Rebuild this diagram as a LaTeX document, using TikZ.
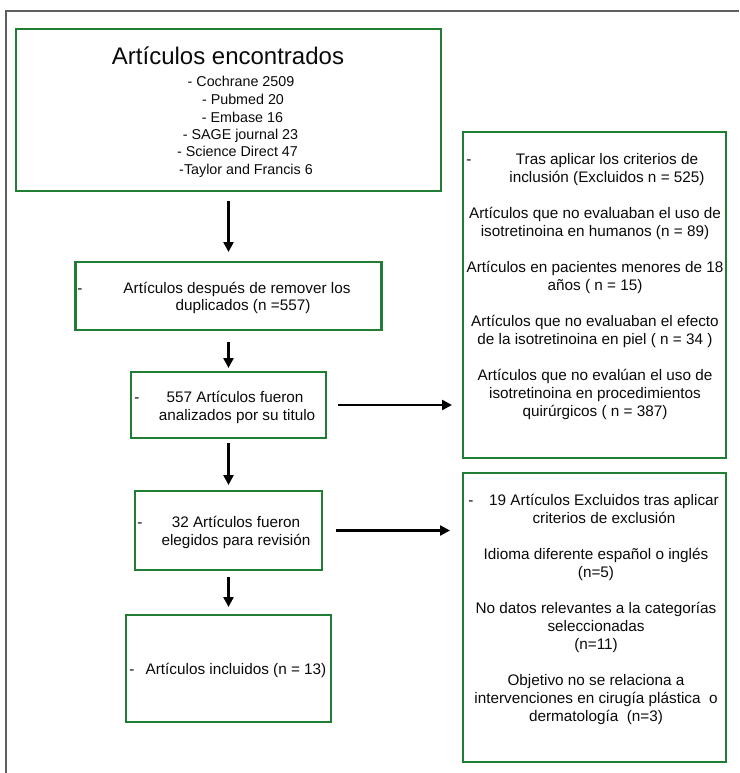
\documentclass[tikz,border=0pt]{standalone}
\usepackage{fontspec}
\setmainfont{Liberation Sans}
\usetikzlibrary{arrows.meta}
\definecolor{boxgreen}{RGB}{34,125,52}
\definecolor{framegray}{RGB}{95,95,95}
\definecolor{txtc}{RGB}{10,10,10}
\begin{document}
\begin{tikzpicture}[x=1pt,y=-1pt,
  box/.style={draw=boxgreen,line width=2.1pt,inner sep=0pt,outer sep=0pt},
  txt/.style={text=txtc,inner sep=0pt,anchor=base,font=\fontsize{15.3}{18}\selectfont},
  src/.style={txt,font=\fontsize{14.3}{17}\selectfont},
  ttl/.style={txt,font=\fontsize{24}{28}\selectfont},
  arr/.style={line width=2.4pt,draw=black,-{Triangle[length=10pt,width=10pt]}}]
\useasboundingbox (0,0) rectangle (739,773);
\draw[framegray,line width=1.8pt] (739,11) -- (6,11) -- (6,773);

% boxes
\node[box,minimum width=425pt,minimum height=162pt] (b1) at (228.5,110) {};
\node[box,minimum width=306pt,minimum height=68pt] (b2) at (228.5,296) {};
\node[box,minimum width=195pt,minimum height=66pt] (b3) at (228.5,405) {};
\node[box,minimum width=187pt,minimum height=79pt] (b4) at (228.5,530.5) {};
\node[box,minimum width=205pt,minimum height=107pt] (b5) at (228.5,668.5) {};
\node[box,minimum width=263pt,minimum height=326pt] (bA) at (594.5,295) {};
\node[box,minimum width=263pt,minimum height=289pt] (bB) at (594.5,617.5) {};

% arrows
\draw[arr,shorten <=10pt,shorten >=10pt] (b1.south) -- (b2.north);
\draw[arr,shorten <=12pt,shorten >=4pt] (b2.south) -- (b3.north);
\draw[arr,shorten <=5pt,shorten >=6pt] (b3.south) -- (b4.north);
\draw[arr,shorten <=7pt,shorten >=8pt] (b4.south) -- (b5.north);
\draw[arr,shorten <=12pt,shorten >=11pt] (b3.east) -- (b3.east -| bA.west);
\draw[arr,shorten <=14pt,shorten >=13pt] (b4.east) -- (b4.east -| bB.west);

% box 1
\node[ttl] (t1) at (228,65) {Artículos encontrados};
\node[src] (s1) at (241,87) {- Cochrane 2509};
\node[src] (s2) at (243,104.5) {- Pubmed 20};
\node[src] (s3) at (242.5,122) {- Embase 16};
\node[src] (s4) at (240.5,139.5) {- SAGE journal 23};
\node[src] (s5) at (237.5,157) {- Science Direct 47};
\node[src] (s6) at (246,174.5) {-Taylor and Francis 6};

% box 2
\node[txt] (d2) at (80,293) {-};
\node[txt] (t2a) at (237,293) {Artículos después de remover los};
\node[txt] (t2b) at (243,310) {duplicados (n =557)};

% box 3
\node[txt] (d3) at (137,402) {-};
\node[txt] (t3a) at (235,402) {557 Artículos fueron};
\node[txt] (t3b) at (237,420) {analizados por su titulo};

% box 4
\node[txt] (d4) at (140,527) {-};
\node[txt] (t4a) at (236,527) {32 Artículos fueron};
\node[txt] (t4b) at (236,545) {elegidos para revisión};

% box 5
\node[txt] (d5) at (132,674) {-};
\node[txt] (t5a) at (236,674) {Artículos incluidos (n = 13)};

% box A
\node[txt] (dA) at (469,164) {-};
\node[txt] (a1) at (607,164) {Tras aplicar los criterios de};
\node[txt] (a2) at (607,182) {inclusión (Excluidos n = 525)};
\node[txt] (a3) at (595,218) {Artículos que no evaluaban el uso de};
\node[txt] (a4) at (595,236) {isotretinoina en humanos (n = 89)};
\node[txt] (a5) at (595,272) {Artículos en pacientes menores de 18};
\node[txt] (a6) at (595,290) {años ( n = 15)};
\node[txt] (a7) at (595,326) {Artículos que no evaluaban el efecto};
\node[txt] (a8) at (595,344) {de la isotretinoina en piel ( n = 34 )};
\node[txt] (a9) at (595,380) {Artículos que no evalúan el uso de};
\node[txt] (a10) at (595,398) {isotretinoina en procedimientos};
\node[txt] (a11) at (595,416) {quirúrgicos ( n = 387)};

% box B
\node[txt] (dB) at (471,505) {-};
\node[txt] (c1) at (604,505) {19 Artículos Excluidos tras aplicar};
\node[txt] (c2) at (604,523) {criterios de exclusión};
\node[txt] (c3) at (596,559) {Idioma diferente español o inglés};
\node[txt] (c4) at (596,577) {(n=5)};
\node[txt] (c5) at (596,613) {No datos relevantes a la categorías};
\node[txt] (c6) at (596,631) {seleccionadas};
\node[txt] (c7) at (596,649) {(n=11)};
\node[txt] (c8) at (596,685) {Objetivo no se relaciona a};
\node[txt] (c9) at (596,703) {intervenciones en cirugía plástica\ \ o};
\node[txt] (c10) at (596,721) {dermatología\ \ (n=3)};
\end{tikzpicture}
\end{document}
